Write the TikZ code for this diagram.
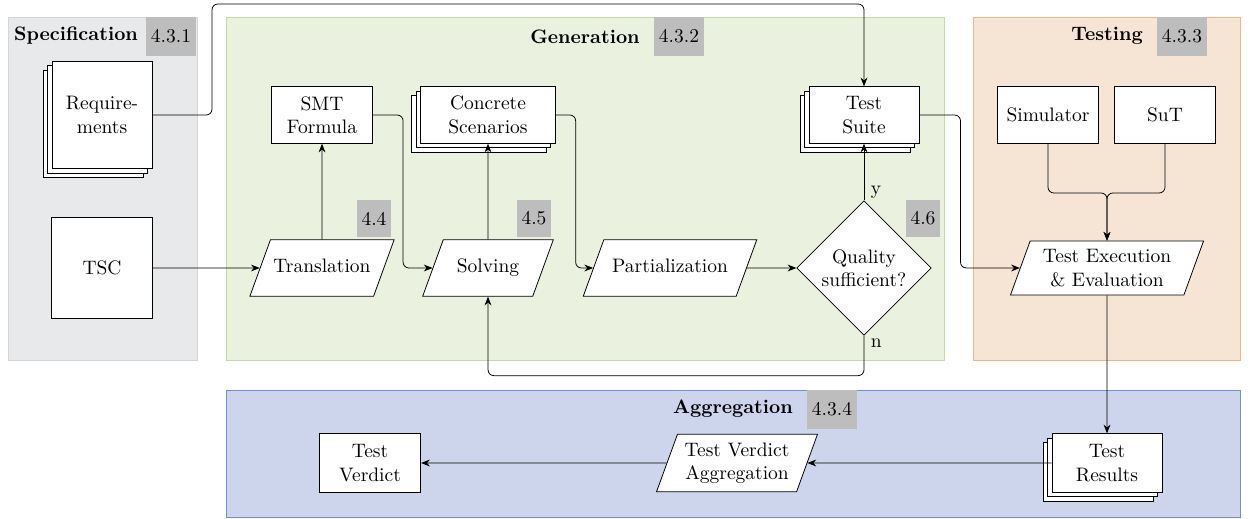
\documentclass[tikz,border=0pt]{standalone}
\usepackage{tikz}
\usetikzlibrary{shapes.geometric, shadows, arrows.meta, positioning, calc}

\definecolor{specfill}{HTML}{E8E9EB}
\definecolor{specline}{HTML}{D4D5D8}
\definecolor{genfill}{HTML}{EBF1DF}
\definecolor{genline}{HTML}{C3D9A6}
\definecolor{testfill}{HTML}{F6E5D4}
\definecolor{testline}{HTML}{EEB88C}
\definecolor{aggfill}{HTML}{CDD5EC}
\definecolor{aggline}{HTML}{7090D0}
\definecolor{badgegray}{HTML}{BDBDBD}

\tikzset{
  box/.style={draw, fill=white, align=center, inner sep=2pt},
  docs/.style={box, double copy shadow={shadow xshift=-2.3pt, shadow yshift=-2.3pt}},
  proc/.style={draw, fill=white, align=center, trapezium, trapezium left angle=70,
    trapezium right angle=110, trapezium stretches body=true, inner xsep=1pt},
  oneline/.style={text height=7pt, text depth=2pt, inner ysep=10pt},
  twoline/.style={inner ysep=4.3pt},
  decision/.style={draw, fill=white, diamond, aspect=1, align=center, minimum size=69pt, inner sep=0pt},
  badge/.style={fill=badgegray, minimum width=25.7pt, minimum height=20pt, inner sep=0pt},
  smallbadge/.style={fill=badgegray, minimum width=17.5pt, minimum height=19pt, inner sep=0pt},
  title/.style={font=\bfseries},
  flow/.style={-{Stealth[length=4.5pt,width=3.5pt]}, rounded corners=3pt},
}

\begin{document}
\begin{tikzpicture}[x=0.513pt, y=-0.513pt]
  \useasboundingbox (0,0) rectangle (1250,518);

  % regions
  \draw[specline, fill=specfill] (8,17) rectangle (197,360);
  \draw[genline, fill=genfill] (226,17) rectangle (944,360);
  \draw[testline, fill=testfill] (973,17) rectangle (1240,360);
  \draw[aggline, fill=aggfill] (226,390) rectangle (1240,517);

  % titles
  \node[title] (spectitle) at (76,36) {Specification};
  \node[badge] (specno) at (171,36.5) {4.3.1};
  \node[title] (gentitle) at (585,37) {Generation};
  \node[badge] (genno) at (679,36.5) {4.3.2};
  \node[title] (testtitle) at (1107,36) {Testing};
  \node[badge] (testno) at (1182,36.5) {4.3.3};
  \node[title] (aggtitle) at (733,409) {Aggregation};
  \node[badge] (aggno) at (832,409.5) {4.3.4};

  \node[smallbadge] (transno) at (374,218.5) {4.4};
  \node[smallbadge] (solvno) at (534,218.5) {4.5};
  \node[smallbadge] (qualno) at (923,218.5) {4.6};

  % specification
  \node[docs, minimum width=51.3pt, minimum height=55pt] (req) at (102,115) {Require-\\ments};
  \node[box, minimum width=52pt, minimum height=52pt] (tsc) at (102,268) {TSC};

  % generation
  \node[box, minimum width=52pt, minimum height=29pt] (smt) at (322,115) {SMT\\Formula};
  \node[docs, minimum width=69pt, minimum height=29pt] (conc) at (488,115) {Concrete\\Scenarios};
  \node[docs, minimum width=56.5pt, minimum height=29pt] (suite) at (864,115) {Test\\Suite};
  \node[proc, oneline, minimum width=74pt] (trans) at (322,268) {Translation};
  \node[proc, oneline, minimum width=67pt] (solv) at (488,268) {Solving};
  \node[proc, oneline, minimum width=89pt] (part) at (670,268) {Partialization};
  \node[decision] (qual) at (864,268) {Quality\\sufficient?};

  % testing
  \node[box, minimum width=52pt, minimum height=29pt] (sim) at (1048,115) {Simulator};
  \node[box, minimum width=52pt, minimum height=29pt] (sut) at (1165,115) {SuT};
  \node[proc, twoline, minimum width=99pt] (exec) at (1107,268) {Test Execution\\\& Evaluation};
  \coordinate (merge) at (1107,193);

  % aggregation
  \node[docs, minimum width=56.5pt, minimum height=30pt] (res) at (1107,463) {Test\\Results};
  \node[proc, twoline, minimum width=82.6pt] (tva) at (737,463) {Test Verdict\\Aggregation};
  \node[box, minimum width=52pt, minimum height=30pt] (verdict) at (370,463) {Test\\Verdict};

  % connectors
  \draw[flow] (req.east) -| (212,4) -| (suite.north);
  \draw[flow] (tsc.east) -- (trans.west);
  \draw[flow] (trans.north) -- (smt.south);
  \draw[flow] (smt.east) -- ++(30,0) |- (solv.west);
  \draw[flow] (solv.north) -- (conc.south);
  \draw[flow] (conc.east) -- ++(20,0) |- (part.west);
  \draw[flow] (part.east) -- (qual.west);
  \draw[flow] (qual.north) -- node[pos=0.15, right] {y} (suite.south);
  \draw[flow] (qual.south) -- node[pos=0.2, right] {n} ++(0,40) -| (solv.south);
  \draw[flow] (suite.east) -- ++(41,0) |- (exec.west);
  \draw[flow] (sim.south) |- (merge) -- (exec.north);
  \draw[flow] (sut.south) |- (merge) -- (exec.north);
  \draw[flow] (exec.south) -- (res.north);
  \draw[flow] (res.west) -- (tva.east);
  \draw[flow] (tva.west) -- (verdict.east);
\end{tikzpicture}
\end{document}
